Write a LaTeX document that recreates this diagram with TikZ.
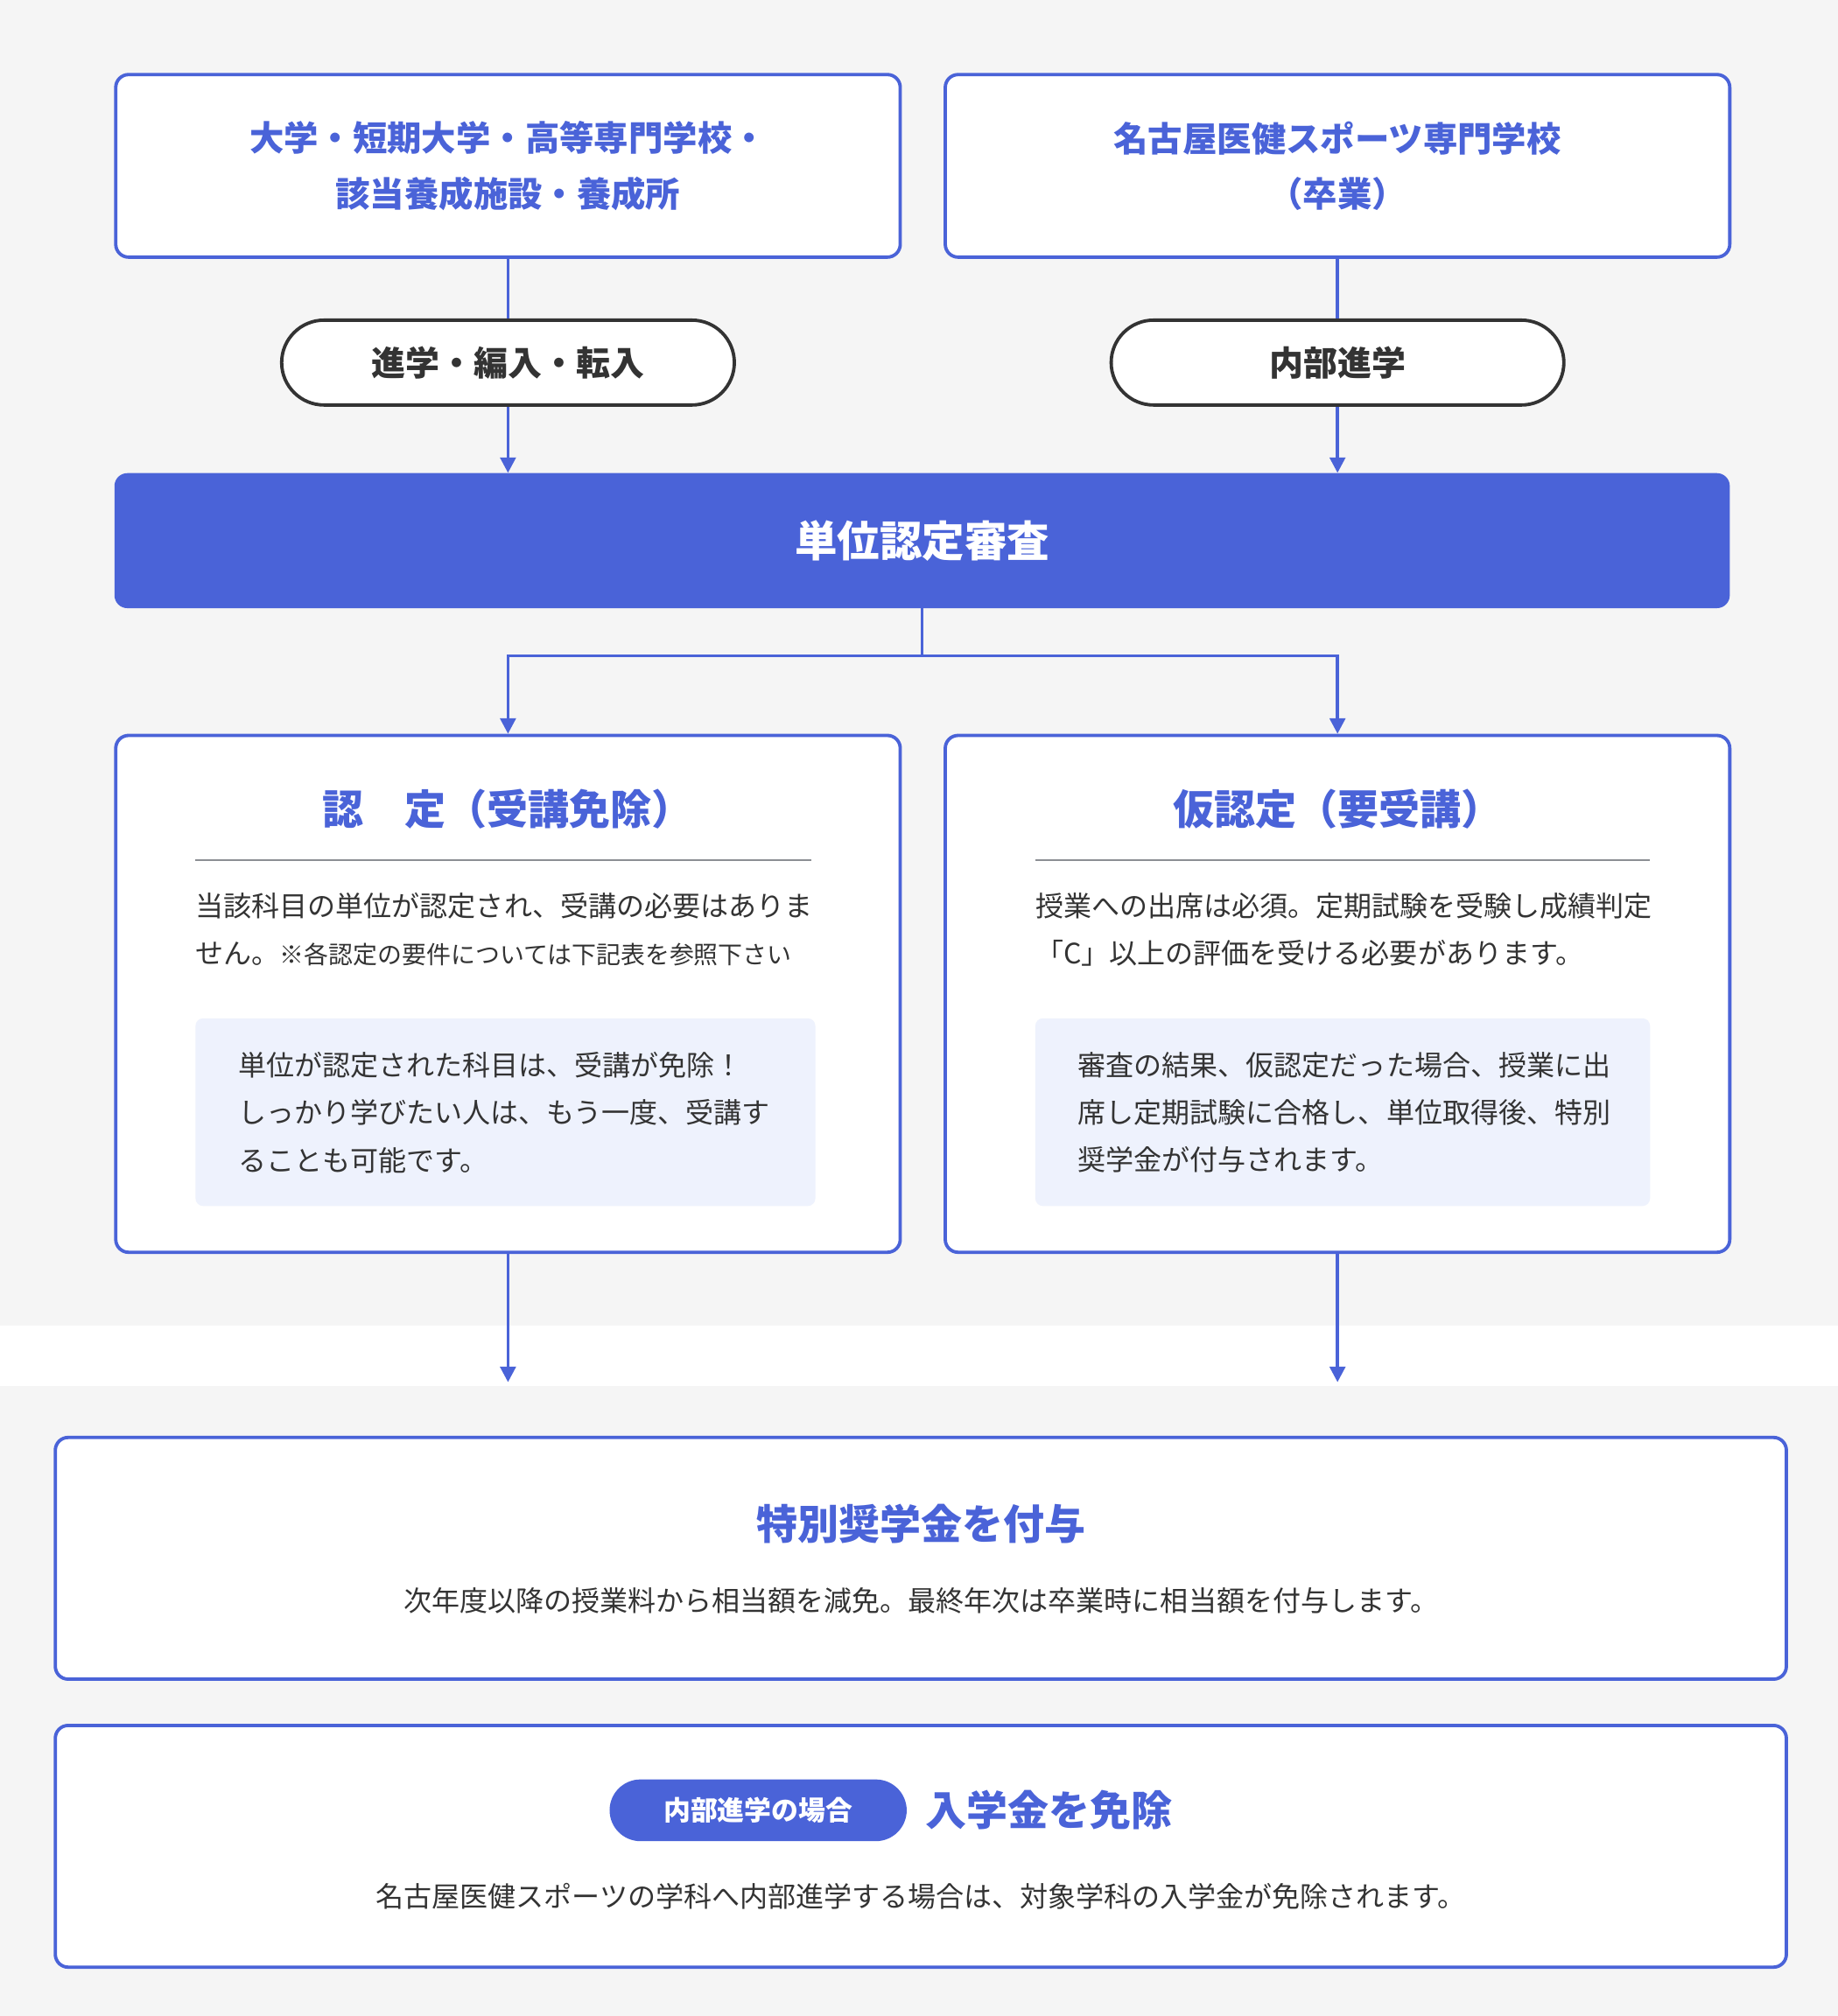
\documentclass[tikz,border=0pt]{standalone}
\usepackage{fontspec}
\setmainfont{Noto Sans CJK JP}
\usetikzlibrary{positioning,arrows.meta}

\definecolor{mainblue}{HTML}{4A63D8}
\definecolor{pagegray}{HTML}{F5F5F5}
\definecolor{softblue}{HTML}{EEF2FD}
\definecolor{inkgray}{HTML}{333333}
\definecolor{rulegray}{HTML}{8C8F94}

\tikzset{
  frame/.style={draw=mainblue, line width=2.6pt, fill=white, rounded corners=10pt, minimum width=610pt},
  route/.style={draw=inkgray, line width=2.6pt, fill=white, rounded corners=33pt, minimum width=352pt, minimum height=66pt, text=inkgray, font=\fontsize{26.5}{30}\selectfont\bfseries},
  link/.style={draw=mainblue, line width=2.4pt},
  arr/.style={link, -{Triangle[width=12pt,length=12pt]}},
  heading/.style={text=mainblue, font=\fontsize{32}{38}\selectfont\bfseries},
  body/.style={text=inkgray, font=\fontsize{21.8}{37}\selectfont, align=left, inner sep=0pt},
  note/.style={fill=softblue, rounded corners=6pt, minimum height=146pt},
}

\begin{document}
\begin{tikzpicture}[x=1pt,y=-1pt]
\fill[pagegray] (0,0) rectangle (1429,1568);
\fill[white] (0,1031) rectangle (1429,1078);
\useasboundingbox (0,0) rectangle (1429,1568);

\node[frame, minimum height=142pt, align=center, text=mainblue, font=\fontsize{26.8}{43}\selectfont\bfseries] (school) at (395,129) {\raisebox{-2pt}{大学・短期大学・高等専門学校・}\\\raisebox{-2pt}{該当養成施設・養成所}};
\node[frame, minimum height=142pt, align=center, text=mainblue, font=\fontsize{26.8}{43}\selectfont\bfseries] (ikenschool) at (1040,129) {\raisebox{-2pt}{名古屋医健スポーツ専門学校}\\\raisebox{-2pt}{（卒業）}};

\node[route] (transfer) at (395,282) {進学・編入・転入};
\node[route] (internal) at (1040,282) {内部進学};

\node[fill=mainblue, rounded corners=10pt, minimum width=1256pt, minimum height=105pt, text=white, font=\fontsize{33}{40}\selectfont\bfseries] (review) at (717,420.5) {単位認定審査};

\node[frame, minimum height=402pt] (approved) at (395,773) {};
\node[frame, minimum height=402pt] (provisional) at (1040,773) {};

\node[heading] (approvedtitle) at (395,629) {認　定（受講免除）};
\node[heading] (provisionaltitle) at (1040,629) {仮認定（要受講）};
\draw[rulegray, line width=1.5pt] (152,669) -- (631,669);
\draw[rulegray, line width=1.5pt] (805,669) -- (1283,669);

\node[body, anchor=north west] (approvedtext) at (152,694) {当該科目の単位が認定され、受講の必要はありま\\せん。{\fontsize{19}{37}\selectfont ※各認定の要件については下記表を参照下さい}};
\node[note, minimum width=482pt] (approvednote) at (393,865) {};
\node[body, anchor=north west] (approvednotetext) at (185,818) {単位が認定された科目は、受講が免除！\\しっかり学びたい人は、もう一度、受講す\\ることも可能です。};

\node[body, anchor=north west] (provisionaltext) at (805,694) {授業への出席は必須。定期試験を受験し成績判定\\「C」以上の評価を受ける必要があります。};
\node[note, minimum width=478pt] (provisionalnote) at (1044,865) {};
\node[body, anchor=north west] (provisionalnotetext) at (838,818) {審査の結果、仮認定だった場合、授業に出\\席し定期試験に合格し、単位取得後、特別\\奨学金が付与されます。};

\node[frame, minimum width=1346pt, minimum height=188pt] (scholarship) at (716,1212) {};
\node[heading] (scholarshiptitle) at (716,1185) {特別奨学金を付与};
\node[body] (scholarshiptext) at (716,1245) {次年度以降の授業料から相当額を減免。最終年次は卒業時に相当額を付与します。};

\node[frame, minimum width=1346pt, minimum height=188pt] (exemption) at (716,1436) {};
\node[fill=mainblue, rounded corners=24pt, minimum width=231pt, minimum height=48pt, text=white, font=\fontsize{21}{24}\selectfont\bfseries] (casetag) at (589.5,1408) {内部進学の場合};
\node[heading, right=11pt of casetag] (exemptiontitle) {入学金を免除};
\node[body] (exemptiontext) at (716,1475) {名古屋医健スポーツの学科へ内部進学する場合は、対象学科の入学金が免除されます。};

\coordinate (approvedend) at (395,1075);
\coordinate (provisionalend) at (1040,1075);

\draw[link] (school.south) -- (transfer.north);
\draw[link] (ikenschool.south) -- (internal.north);
\draw[arr] (transfer.south) -- (transfer.south |- review.north);
\draw[arr] (internal.south) -- (internal.south |- review.north);
\draw[arr] (review.south) -- ++(0,37) -| (approved.north);
\draw[arr] (review.south) -- ++(0,37) -| (provisional.north);
\draw[arr] (approved.south) -- (approvedend);
\draw[arr] (provisional.south) -- (provisionalend);
\end{tikzpicture}
\end{document}
